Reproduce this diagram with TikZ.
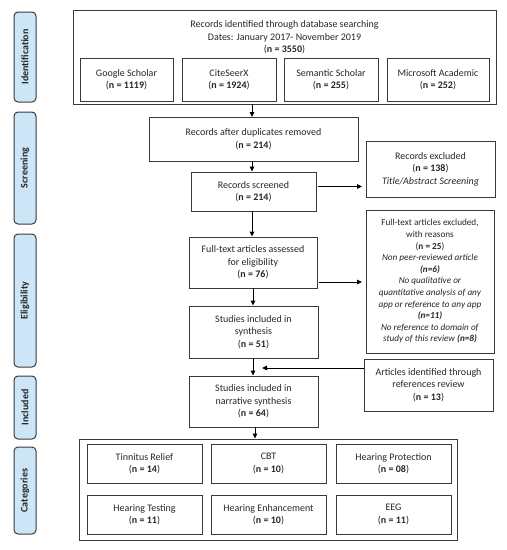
\documentclass[tikz,border=0pt]{standalone}
\usepackage{fontspec}
\setmainfont{Carlito}
\usetikzlibrary{arrows.meta}
\definecolor{sideblue}{HTML}{CCE5F7}
\definecolor{edge}{HTML}{3A3A3A}
\definecolor{txt}{HTML}{262626}
\tikzset{
  box/.style={draw=edge, line width=0.9pt, align=center, inner sep=0pt, text=txt, font=\fontsize{10}{12.5}\selectfont},
  side/.style={draw=edge, line width=1pt, fill=sideblue, rounded corners=4pt, rotate=90, inner sep=0pt, text=txt, font=\fontsize{10}{12}\selectfont\bfseries},
  arr/.style={draw=black, line width=0.9pt, -{Triangle[length=5pt,width=4.5pt]}},
}
\newcommand{\bx}[6]{\node[box, minimum width={#4-#2}, minimum height={#5-#3}] (#1) at ({(#2+#4)/2},{(#3+#5)/2}) {#6};}
\newcommand{\sd}[4]{\node[side, minimum width={#4-#3}, minimum height=22] (#1) at (25,{(#3+#4)/2}) {#2};}
\begin{document}
\begin{tikzpicture}[x=1pt,y=-1pt]
\useasboundingbox (0,0) rectangle (507,550);
% side labels
\sd{sid}{Identification}{12}{102}
\sd{sscr}{Screening}{112}{224}
\sd{selig}{Eligibility}{234}{367}
\sd{sincl}{Included}{376}{439}
\sd{scat}{Categories}{447}{534}
% identification
\bx{top}{73}{10}{496}{104}{}
\node[box, draw=none] (toptitle) at (284.5,37.5) {Records identified through database searching\\Dates: January 2017- November 2019\\(\textbf{n = 3550})};
\bx{gs}{80}{58}{173}{101}{Google Scholar\\(\textbf{n = 1119})}
\bx{cs}{182}{58}{276}{101}{CiteSeerX\\(\textbf{n = 1924})}
\bx{ss}{284}{58}{378}{101}{Semantic Scholar\\(\textbf{n = 255})}
\bx{ms}{387}{58}{489}{101}{Microsoft Academic\\(\textbf{n = 252})}
% screening
\bx{dup}{149}{117}{358}{161}{Records after duplicates removed\\(\textbf{n = 214})}
\bx{scr}{191}{172}{316}{211}{Records screened\\(\textbf{n = 214})}
\bx{exc}{366}{141}{495}{197}{Records excluded\\(\textbf{n = 138})\\\textit{Title/Abstract Screening}}
% eligibility
\bx{ft}{189}{237}{317}{288}{Full-text articles assessed\\for eligibility\\(\textbf{n = 76})}
\node[box, minimum width=128, minimum height=143, font=\fontsize{9.2}{11.6}\selectfont] (ftx) at (430,281.5) {Full-text articles excluded,\\with reasons\\(\textbf{n = 25})\\\textit{Non peer-reviewed article}\\\textit{\textbf{(n=6)}}\\\textit{No qualitative or}\\\textit{quantitative analysis of any}\\\textit{app or reference to any app}\\\textit{\textbf{(n=11)}}\\\textit{No reference to domain of}\\\textit{study of this review \textbf{(n=8)}}};
\bx{syn}{189}{306}{318}{358}{Studies included in\\synthesis\\(\textbf{n = 51})}
% included
\bx{ref}{364}{359}{493}{411}{Articles identified through\\references review\\(\textbf{n = 13})}
\bx{nar}{189}{376}{318}{427}{Studies included in\\narrative synthesis\\(\textbf{n = 64})}
% categories
\bx{cat}{79}{439}{457}{540}{}
\bx{c1}{87}{444}{202}{483}{Tinnitus Relief\\(\textbf{n = 14})}
\bx{c2}{211}{444}{326}{483}{CBT\\(\textbf{n = 10})}
\bx{c3}{336}{444}{451}{483}{Hearing Protection\\(\textbf{n = 08})}
\bx{c4}{87}{495}{202}{534}{Hearing Testing\\(\textbf{n = 11})}
\bx{c5}{211}{495}{326}{534}{Hearing Enhancement\\(\textbf{n = 10})}
\bx{c6}{336}{495}{451}{534}{EEG\\(\textbf{n = 11})}
% arrows
\draw[arr] (252,104) -- (252,117);
\draw[arr] (dup.south -| 252,0) -- (scr.north -| 252,0);
\draw[arr] (scr.south -| 252,0) -- (ft.north -| 252,0);
\draw[arr] (ft.south -| 253,0) -- (syn.north -| 253,0);
\draw[arr] (syn.south -| 253,0) -- (nar.north -| 253,0);
\draw[arr] (nar.south -| 255,0) -- (cat.north -| 255,0);
\draw[arr] (318,186.5) -- (362,186.5);
\draw[arr] (319,282) -- (362,282);
\coordinate (join) at (262,368);
\draw[arr] (ref.west |- join) -- (join);
\end{tikzpicture}
\end{document}
